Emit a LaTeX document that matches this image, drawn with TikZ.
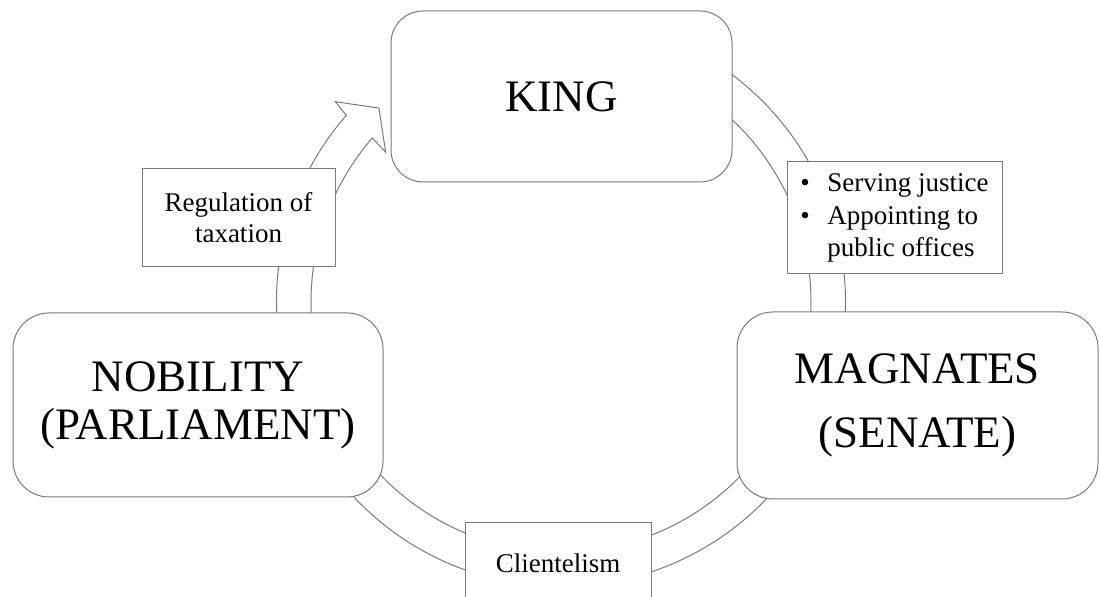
\documentclass[tikz,border=0pt]{standalone}
\usepackage{fontspec}
\setmainfont{Liberation Serif}

\begin{document}
\begin{tikzpicture}[x=0.5pt,y=0.5pt,
  bigbox/.style={draw=outline,fill=white,line width=0.5pt,rounded corners=16pt,align=center,font=\fontsize{22.5}{24}\selectfont},
  tagbox/.style={draw=outline,fill=white,line width=0.5pt,font=\fontsize{13.5}{15.5}\selectfont}]
\definecolor{outline}{HTML}{7A7A7A}
\useasboundingbox (0,0) rectangle (1100,597);
\clip (0,0) rectangle (1100,597);
\coordinate (hub) at (561,295);
% the ring, running clockwise into the head next to the king
\draw[outline,line width=0.5pt,fill=white,shift={(hub)}]
  (139:284.5) arc[start angle=139,end angle=450,radius=284.5]
  -- (450:250) arc[start angle=450,end angle=139,radius=250]
  -- (139.5:230.6) -- (133.2:266) -- (138.4:301.7) -- cycle;
\node[bigbox,minimum width=170.5pt,minimum height=85.5pt] (king) at (561.5,500.5) {KING};
\node[bigbox,minimum width=180.5pt,minimum height=93.5pt,rounded corners=18pt] (magnates) at (917.5,191.5) {MAGNATES\\[8pt](SENATE)};
\node[bigbox,minimum width=185pt,minimum height=92pt,rounded corners=18pt] (nobility) at (198,192) {NOBILITY\\(PARLIAMENT)};
\node[tagbox,minimum width=96.5pt,minimum height=49pt,align=center] (taxation) at (238.5,379) {Regulation of\\taxation};
\node[tagbox,minimum width=107.5pt,minimum height=56pt,align=left,font=\fontsize{13.5}{16.25}\selectfont] (justice) at (894.5,379)
  {\makebox[13.5pt][l]{\textbullet}Serving justice\\\makebox[13.5pt][l]{\textbullet}Appointing to\\\hspace*{13.5pt}public offices};
\node[tagbox,minimum width=93pt,minimum height=40pt] (clientelism) at (558,34) {Clientelism};
\end{tikzpicture}
\end{document}
